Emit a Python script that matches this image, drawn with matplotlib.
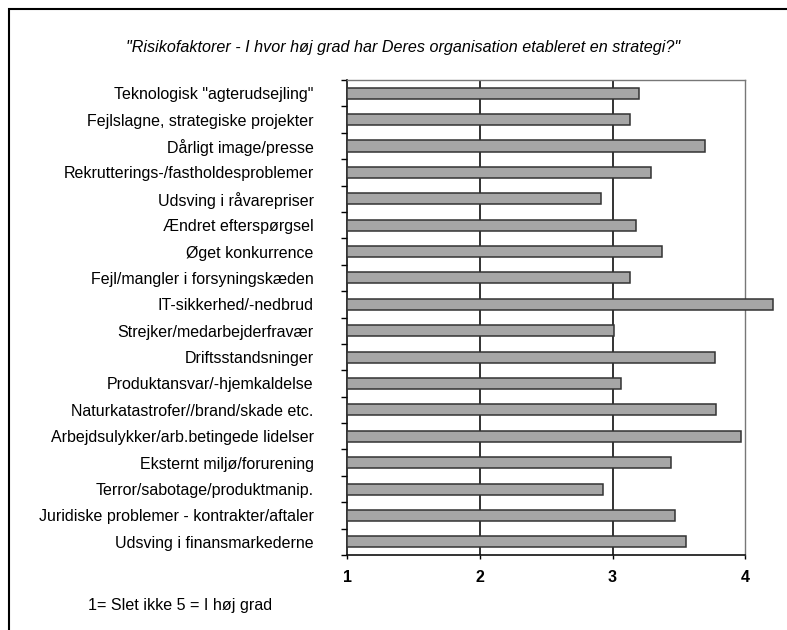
import numpy as np
import matplotlib
matplotlib.use("Agg")
import matplotlib.pyplot as plt
from matplotlib.patches import Rectangle

plt.rcParams['font.family'] = ['Liberation Sans', 'DejaVu Sans']

# risikofaktorer, i samme rækkefølge som på figuren (øverst -> nederst)
labels = [
    'Teknologisk "agterudsejling"',
    'Fejlslagne, strategiske projekter',
    'Dårligt image/presse',
    'Rekrutterings-/fastholdesproblemer',
    'Udsving i råvarepriser',
    'Ændret efterspørgsel',
    'Øget konkurrence',
    'Fejl/mangler i forsyningskæden',
    'IT-sikkerhed/-nedbrud',
    'Strejker/medarbejderfravær',
    'Driftsstandsninger',
    'Produktansvar/-hjemkaldelse',
    'Naturkatastrofer//brand/skade etc.',
    'Arbejdsulykker/arb.betingede lidelser',
    'Eksternt miljø/forurening',
    'Terror/sabotage/produktmanip.',
    'Juridiske problemer - kontrakter/aftaler',
    'Udsving i finansmarkederne',
]
scores = [3.20, 3.13, 3.70, 3.29, 2.91, 3.18, 3.37, 3.13, 4.21,
          3.01, 3.77, 3.06, 3.78, 3.97, 3.44, 2.93, 3.47, 3.55]
x_ticks = [1, 2, 3, 4]

title = '"Risikofaktorer - I hvor høj grad har Deres organisation etableret en strategi?"'
note = '1= Slet ikke 5 = I høj grad'

fig = plt.figure(figsize=(7.87, 6.3), dpi=100)
ax = fig.add_axes([0.441, 0.119, 0.506, 0.754])

y = np.arange(len(labels))
base = x_ticks[0]
ax.barh(y, np.array(scores) - base, left=base, height=0.42,
        color='#a6a6a6', edgecolor='#333333', linewidth=1.1,
        clip_on=False, zorder=3)

ax.set_xlim(1, 4)
ax.set_ylim(len(labels) - 0.5, -0.5)

for v in x_ticks[1:-1]:
    ax.axvline(v, color='#111111', linewidth=1.2, zorder=1)

ax.set_xticks(x_ticks)
ax.set_xticklabels([str(t) for t in x_ticks], fontsize=11.5, fontweight='bold')
ax.tick_params(axis='x', length=3, width=1, direction='out', pad=8)

ax.set_yticks(y)
ax.set_yticklabels(labels, fontsize=11.5)
ax.set_yticks(np.arange(len(labels) + 1) - 0.5, minor=True)
ax.tick_params(axis='y', which='major', length=0, pad=24)
ax.tick_params(axis='y', which='minor', length=4, width=1, direction='out')

for side in ['left', 'bottom']:
    ax.spines[side].set_color('#111111')
    ax.spines[side].set_linewidth(1.2)
for side in ['top', 'right']:
    ax.spines[side].set_color('#777777')
    ax.spines[side].set_linewidth(1.0)

fig.text(0.512, 0.925, title, ha='center', va='center', fontsize=11.6, style='italic')
fig.text(0.112, 0.039, note, ha='left', va='center', fontsize=11.6)

# ramme rundt om figuren (kun top og venstre er synlige)
fig.patches.append(Rectangle((9 / 787, -0.1), 1.2, 1 - 9 / 630 + 0.1,
                             transform=fig.transFigure, fill=False,
                             edgecolor='black', linewidth=1.5))

fig.savefig('out.png', dpi=100)
